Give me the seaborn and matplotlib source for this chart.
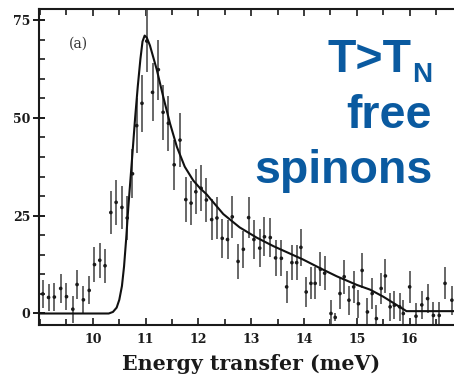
import matplotlib
matplotlib.use('Agg')
import matplotlib.pyplot as plt
import seaborn as sns
from matplotlib.ticker import MultipleLocator, FixedLocator

sns.set_theme(style='white')
plt.rcParams['font.family'] = ['DejaVu Sans']

# measured points
energy = [9.05, 9.16, 9.27, 9.39, 9.50, 9.62, 9.70, 9.82, 9.93, 10.03,
          10.13, 10.23, 10.34, 10.44, 10.55, 10.65, 10.75, 10.83, 10.93, 11.02,
          11.13, 11.24, 11.33, 11.43, 11.54, 11.65, 11.76, 11.86, 11.95, 12.05,
          12.15, 12.25, 12.35, 12.45, 12.55, 12.64, 12.75, 12.85, 12.95, 13.05,
          13.16, 13.25, 13.36, 13.46, 13.57, 13.67, 13.77, 13.86, 13.94, 14.04,
          14.13, 14.21, 14.31, 14.39, 14.51, 14.59, 14.68, 14.76, 14.85, 14.94,
          15.03, 15.10, 15.20, 15.29, 15.37, 15.46, 15.54, 15.63, 15.71, 15.81,
          15.88, 16.00, 16.12, 16.23, 16.34, 16.45, 16.56, 16.67, 16.80]
intensity = [5.0, 4.1, 4.2, 6.4, 4.3, 1.1, 7.4, 3.5, 5.9, 12.5,
             13.6, 12.2, 25.8, 28.4, 27.1, 24.4, 35.7, 48.0, 53.7, 69.6,
             56.5, 62.3, 51.4, 48.6, 38.0, 44.3, 29.1, 28.2, 31.1, 32.0,
             29.0, 24.0, 24.4, 19.2, 18.9, 24.7, 13.3, 16.4, 24.5, 18.9,
             16.7, 19.6, 19.4, 14.2, 14.1, 6.8, 13.0, 13.0, 16.9, 5.5,
             7.7, 7.7, 11.3, 10.3, 0.0, -1.0, 5.1, 9.4, 3.4, 6.8,
             2.5, 11.0, 0.4, 5.1, -1.3, 6.4, 9.6, 1.7, 2.1, 1.7,
             0.0, 6.8, -0.7, 2.2, 3.8, -0.5, -0.5, 7.7, 3.4]
error = [3.5, 3.5, 3.5, 3.6, 3.5, 3.4, 3.7, 3.5, 3.6, 4.4,
         4.5, 4.4, 5.5, 5.7, 5.6, 5.5, 6.2, 7.0, 7.3, 8.0,
         7.4, 7.7, 7.1, 7.0, 6.4, 6.8, 5.7, 5.6, 5.8, 5.9,
         5.7, 5.3, 5.3, 5.0, 5.0, 5.3, 4.5, 4.8, 5.3, 5.0,
         4.8, 5.0, 5.0, 4.6, 4.6, 4.0, 4.5, 4.5, 4.8, 3.9,
         4.1, 4.1, 4.4, 4.3, 3.5, 1.0, 3.9, 4.3, 3.7, 4.0,
         3.6, 4.4, 3.5, 3.9, 3.4, 4.0, 4.3, 3.6, 3.6, 3.6,
         3.5, 4.0, 3.4, 3.6, 3.7, 3.4, 3.4, 4.1, 3.7]

# fitted curve
fit_energy = [9.0, 10.30, 10.38, 10.45, 10.50, 10.55, 10.59, 10.63, 10.67, 10.71,
              10.75, 10.80, 10.85, 10.90, 10.94, 10.98, 11.02, 11.08, 11.21, 11.33,
              11.46, 11.59, 11.74, 11.90, 12.03, 12.15, 12.47, 12.78, 13.10, 13.42,
              13.98, 14.30, 14.62, 15.00, 15.25, 15.50, 15.75, 15.94, 16.84]
fit_intensity = [0.0, 0.0, 0.4, 1.5, 3.5, 7.0, 12.0, 19.0, 27.0, 34.0,
                 41.0, 50.0, 58.0, 65.0, 69.5, 71.0, 70.5, 68.5, 62.3, 55.5,
                 48.6, 42.6, 37.5, 34.0, 32.0, 30.5, 25.4, 22.0, 19.4, 17.2,
                 13.8, 11.6, 9.5, 7.3, 6.1, 4.3, 2.2, 0.6, 0.6]

x_ticks = [10, 11, 12, 13, 14, 15, 16]
y_ticks = [0, 25, 50, 75]

fig = plt.figure(figsize=(4.54, 3.74), dpi=100)
ax = fig.add_axes([0.086, 0.131, 0.914, 0.845])

ax.errorbar(energy, intensity, yerr=error, fmt='none', ecolor='#5c5c5c',
            elinewidth=1.3, capsize=0, zorder=2)
sns.scatterplot(x=energy, y=intensity, ax=ax, color='#1a1a1a', s=7,
                marker='o', edgecolor='none', zorder=3)
sns.lineplot(x=fit_energy, y=fit_intensity, ax=ax, color='#111111',
             linewidth=1.5, errorbar=None, zorder=4)

ax.set_xlim(8.98, 16.84)
ax.set_ylim(-2.94, 77.8)
ax.set_xlabel('')
ax.set_ylabel('')

for s in ['left', 'bottom', 'top']:
    ax.spines[s].set_visible(True)
    ax.spines[s].set_color('#1a1a1a')
    ax.spines[s].set_linewidth(1.5)
ax.spines['right'].set_visible(False)

ax.xaxis.set_major_locator(FixedLocator(x_ticks))
ax.xaxis.set_minor_locator(MultipleLocator(0.5))
ax.yaxis.set_major_locator(FixedLocator(y_ticks))
ax.yaxis.set_minor_locator(MultipleLocator(5))
ax.tick_params(axis='x', which='both', direction='in', top=True, bottom=True,
               color='#1a1a1a', width=1.2)
ax.tick_params(axis='x', which='major', length=5, pad=6)
ax.tick_params(axis='x', which='minor', length=4)
ax.tick_params(axis='y', which='major', direction='inout', length=9, left=True,
               color='#1a1a1a', width=1.4, pad=2)
ax.tick_params(axis='y', which='minor', direction='in', length=4, left=True,
               color='#1a1a1a', width=1.2)
for lab in ax.get_xticklabels() + ax.get_yticklabels():
    lab.set_fontfamily('DejaVu Serif')
    lab.set_fontweight('bold')
    lab.set_fontsize(9)
    lab.set_color('#1a1a1a')

ax.text(0.072, 0.89, '(a)', transform=ax.transAxes, fontsize=10,
        family='DejaVu Serif', color='#333333', va='center', ha='left')

fig.text(0.553, 0.012, 'Energy transfer (meV)', ha='center', va='baseline',
         family='DejaVu Serif', fontweight='bold', fontsize=14.8, color='#1a1a1a')

blue = '#0a5aa0'
fs = 33.5
fig.text(0.907, 1 - 72 / 374, 'T>T', ha='right', va='baseline', color=blue,
         family='Liberation Sans', fontweight='bold', fontsize=fs)
fig.text(0.907, 1 - 82 / 374, 'N', ha='left', va='baseline', color=blue,
         family='Liberation Sans', fontweight='bold', fontsize=fs * 0.6)
fig.text(0.952, 1 - 128 / 374, 'free', ha='right', va='baseline', color=blue,
         family='Liberation Sans', fontweight='bold', fontsize=fs)
fig.text(0.952, 1 - 183 / 374, 'spinons', ha='right', va='baseline', color=blue,
         family='Liberation Sans', fontweight='bold', fontsize=fs)

fig.savefig('out.png', dpi=100)
